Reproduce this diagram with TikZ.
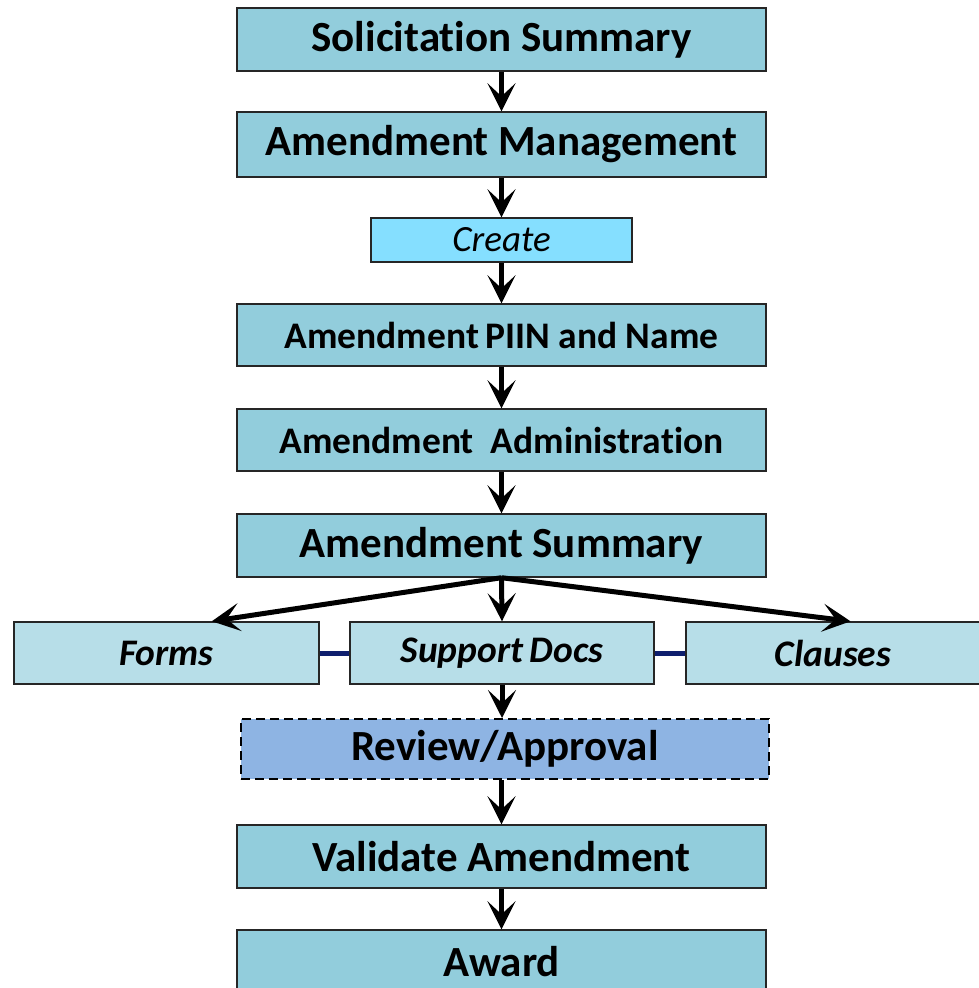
\documentclass[tikz,border=0pt]{standalone}
\usepackage{fontspec}
\setmainfont[Ligatures={NoCommon}]{Carlito}
\usetikzlibrary{arrows.meta}
\definecolor{mainbox}{HTML}{92CDDC}
\definecolor{createbox}{HTML}{85DFFF}
\definecolor{subbox}{HTML}{B7DEE8}
\definecolor{reviewbox}{HTML}{8EB4E3}
\definecolor{navyline}{HTML}{0F1F6E}
\begin{document}
\begin{tikzpicture}[x=1pt,y=-1pt,
  box/.style={draw=black!85, line width=1.4pt, inner sep=0pt, align=center},
  mainstep/.style={box, fill=mainbox, minimum width=529pt, font=\bfseries\fontsize{43}{47}\selectfont},
  smallstep/.style={box, fill=mainbox, minimum width=529pt, minimum height=62pt, font=\bfseries\fontsize{37.5}{42}\selectfont},
  subitem/.style={box, fill=subbox, minimum height=62pt, font=\bfseries\itshape\fontsize{37.5}{42}\selectfont},
  flow/.style={line width=5pt, -{Stealth[length=28pt,width=28pt,inset=13pt]}},
  link/.style={navyline, line width=5pt}
]
\useasboundingbox (0,0) rectangle (978,988);
\node[mainstep, minimum height=63pt] (sol) at (501.5,39.5) {Solicitation Summary};
\node[mainstep, minimum height=65pt] (mgmt) at (501.5,144.5) {Amendment Management};
\node[box, fill=createbox, minimum width=261pt, minimum height=44pt, font=\itshape\fontsize{37}{40}\selectfont] (create) at (501.5,240) {Create};
\node[smallstep] (piin) at (501.5,335) {Amendment\,PIIN and Name};
\node[smallstep] (admin) at (501.5,440) {Amendment\ \ Administration};
\node[mainstep, minimum height=63pt] (summ) at (501.5,545.5) {Amendment Summary};
\node[subitem, minimum width=305pt] (forms) at (166.5,653) {Forms};
\node[subitem, minimum width=304pt] (docs) at (502,653) {Support\,Docs};
\node[subitem, minimum width=294pt] (clauses) at (833,653) {Clauses};
\node[box, draw=black, line width=2pt, dash pattern=on 9pt off 5pt, fill=reviewbox, minimum width=528pt, minimum height=60pt, font=\bfseries\fontsize{43}{47}\selectfont] (review) at (505,749) {Review/Approval};
\node[mainstep, minimum height=63pt] (valid) at (501.5,856.5) {Validate Amendment};
\node[mainstep, minimum height=64pt] (award) at (501.5,962) {Award};

\draw[flow] (sol.south) -- (mgmt.north);
\draw[flow] (mgmt.south) -- (create.north);
\draw[flow] (create.south) -- (piin.north);
\draw[flow] (piin.south) -- (admin.north);
\draw[flow] (admin.south) -- (summ.north);
\draw[flow] (summ.south) -- (forms.35);
\draw[flow] (summ.south) -- (docs.north);
\draw[flow] (summ.south) -- (clauses.61);
\draw[flow] (docs.south) -- (review.north -| docs.south);
\draw[flow] (review.south -| valid.north) -- (valid.north);
\draw[flow] (valid.south) -- (award.north);
\draw[link] (forms.east) -- (docs.west);
\draw[link] (docs.east) -- (clauses.west);
\end{tikzpicture}
\end{document}
